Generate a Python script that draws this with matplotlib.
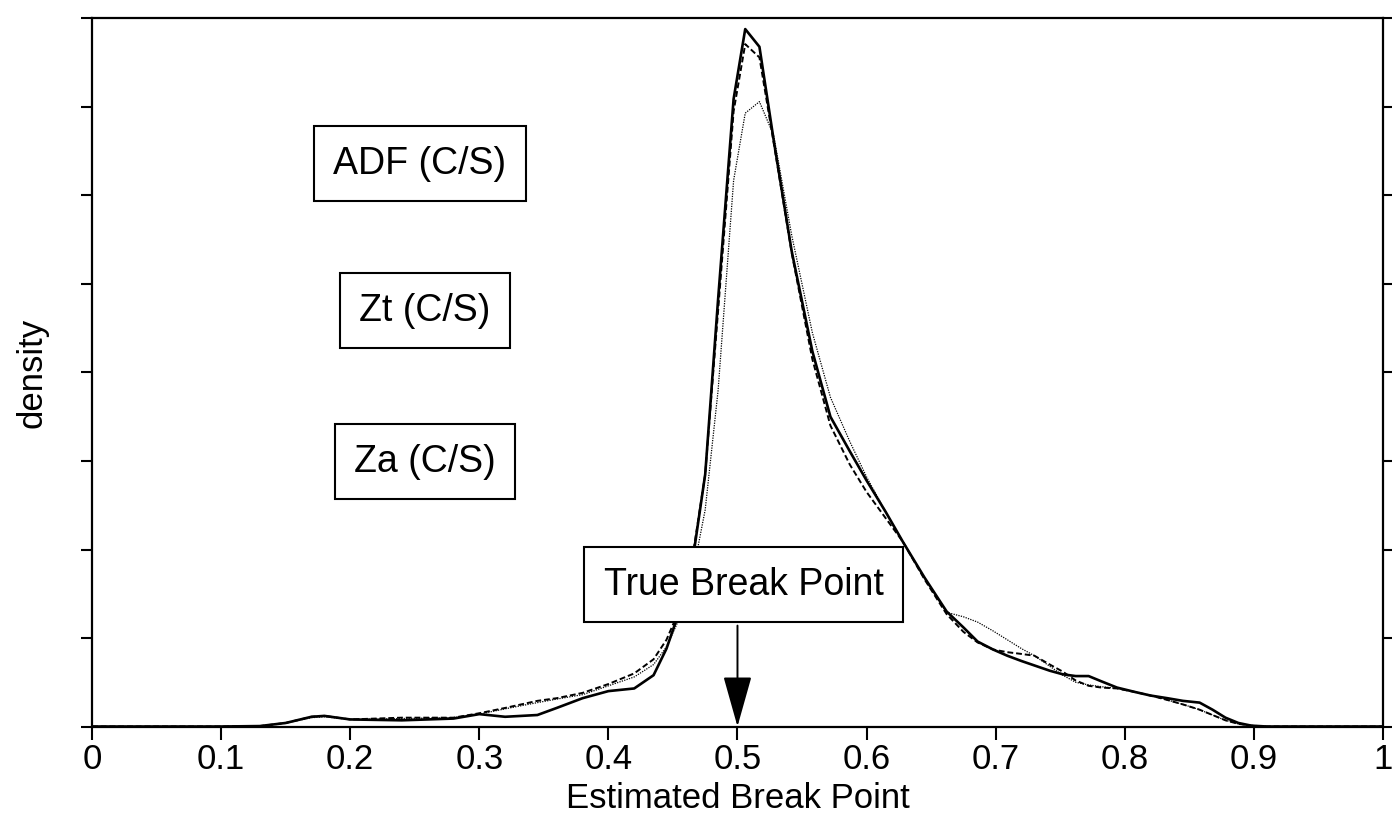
# Density of estimated break points for ADF, Zt and Za (C/S)

import numpy as np
import matplotlib
matplotlib.use("Agg")
import matplotlib.pyplot as plt

plt.rcParams['font.family'] = ['Liberation Sans', 'DejaVu Sans']

x = [0.0, 0.10, 0.13, 0.15, 0.17, 0.18, 0.20, 0.24, 0.28, 0.30, 0.32, 0.345,
     0.36, 0.38, 0.40, 0.42, 0.435, 0.445, 0.455, 0.465, 0.475, 0.485, 0.497,
     0.506, 0.517, 0.528, 0.542, 0.558, 0.572, 0.587, 0.60, 0.615, 0.628,
     0.645, 0.662, 0.675, 0.686, 0.698, 0.709, 0.72, 0.73, 0.742, 0.752,
     0.762, 0.772, 0.782, 0.794, 0.808, 0.82, 0.833, 0.845, 0.858, 0.868,
     0.878, 0.888, 0.898, 0.91, 1.0]

solid = [0, 0, 0.005, 0.04, 0.11, 0.12, 0.08, 0.07, 0.09, 0.14, 0.11, 0.13,
         0.21, 0.32, 0.40, 0.43, 0.58, 0.88, 1.30, 1.85, 2.85, 4.83, 7.09,
         7.88, 7.68, 6.63, 5.37, 4.24, 3.50, 3.11, 2.78, 2.42, 2.09,
         1.68, 1.30, 1.12, 0.96, 0.87, 0.80, 0.74, 0.69, 0.63, 0.59,
         0.57, 0.57, 0.51, 0.44, 0.39, 0.35, 0.32, 0.29, 0.27, 0.19,
         0.10, 0.04, 0.01, 0, 0]

dashed = [0, 0, 0.005, 0.04, 0.11, 0.12, 0.08, 0.10, 0.10, 0.15, 0.21, 0.29,
          0.32, 0.38, 0.48, 0.60, 0.76, 0.98, 1.32, 1.90, 2.85, 4.70, 6.95,
          7.71, 7.56, 6.60, 5.35, 4.15, 3.40, 2.96, 2.65, 2.35, 2.09,
          1.66, 1.27, 1.07, 0.95, 0.87, 0.84, 0.82, 0.80, 0.70, 0.62,
          0.52, 0.46, 0.44, 0.43, 0.39, 0.35, 0.30, 0.25, 0.19, 0.13,
          0.07, 0.03, 0.01, 0, 0]

dotted = [0, 0, 0.005, 0.04, 0.10, 0.11, 0.08, 0.09, 0.10, 0.14, 0.20, 0.27,
          0.31, 0.36, 0.46, 0.56, 0.70, 0.90, 1.22, 1.70, 2.45, 3.80, 6.17,
          6.93, 7.06, 6.68, 5.55, 4.45, 3.72, 3.22, 2.82, 2.42, 2.09,
          1.68, 1.29, 1.24, 1.18, 1.08, 0.98, 0.88, 0.80, 0.68, 0.58,
          0.50, 0.47, 0.45, 0.43, 0.39, 0.35, 0.30, 0.25, 0.19, 0.13,
          0.07, 0.03, 0.01, 0, 0]

xtick_vals = [0, 0.1, 0.2, 0.3, 0.4, 0.5, 0.6, 0.7, 0.8, 0.9, 1]
xtick_labels = ["0", "0.1", "0.2", "0.3", "0.4", "0.5", "0.6", "0.7", "0.8", "0.9", "1"]
true_break = 0.5

fig = plt.figure(figsize=(13.92, 8.24), dpi=100)
ax = fig.add_axes([0.0661, 0.1183, 0.9274, 0.8593])

ax.plot(x, solid, color="black", lw=1.9, ls="-")
ax.plot(x, dashed, color="black", lw=1.4, ls=(0, (3, 1.5)))
ax.plot(x, dotted, color="black", lw=0.9, ls=(0, (1, 1)))

ax.set_xlim(0, 1)
ax.set_ylim(0, 8)
ax.set_xticks(xtick_vals)
ax.set_xticklabels(xtick_labels, fontsize=25)
ax.set_yticks(np.arange(0, 9))
ax.set_yticklabels([])
ax.tick_params(axis="x", direction="out", length=9, width=1.5, pad=3)
ax.tick_params(axis="y", direction="out", length=8, width=1.5,
               left=True, right=True)
for sp in ax.spines.values():
    sp.set_linewidth(1.6)

ax.set_xlabel("Estimated Break Point", fontsize=25, labelpad=4)
ax.set_ylabel("density", fontsize=25, labelpad=20)

box = dict(boxstyle="square,pad=0.52", fc="white", ec="black", lw=1.5)
ax.text(0.254, 6.36, "ADF (C/S)", fontsize=27, ha="center", va="center", bbox=box)
ax.text(0.258, 4.70, "Zt (C/S)", fontsize=27, ha="center", va="center", bbox=box)
ax.text(0.258, 2.99, "Za (C/S)", fontsize=27, ha="center", va="center", bbox=box)
ax.text(0.505, 1.60, "True Break Point", fontsize=27, ha="center", va="center",
        bbox=box, zorder=5)

ax.annotate("", xy=(true_break, 0.0), xytext=(true_break, 1.14),
            arrowprops=dict(arrowstyle="-|>,head_width=0.9,head_length=3.2",
                            color="black", lw=1.4, shrinkA=0, shrinkB=0))

fig.savefig("out.png", dpi=100)
